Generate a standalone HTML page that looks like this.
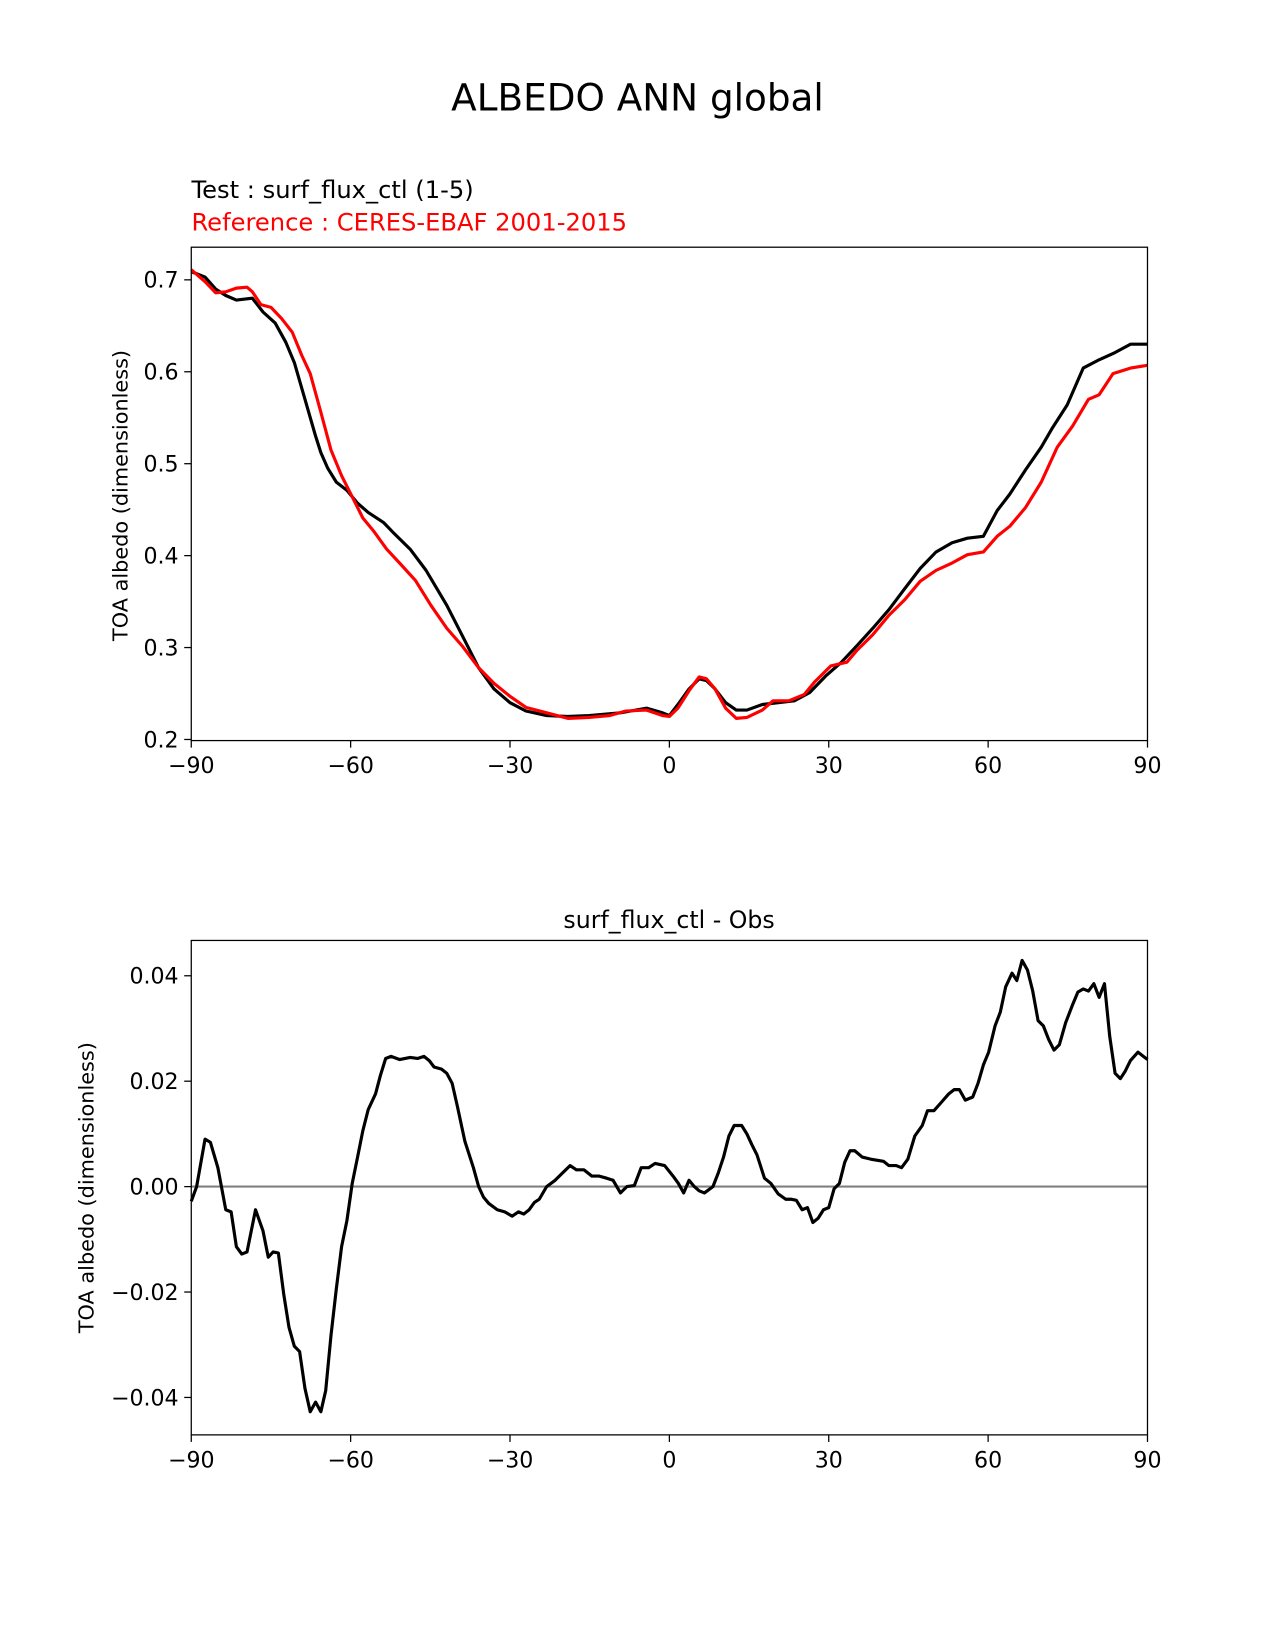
<!DOCTYPE html>
<html><head><meta charset="utf-8"><style>
html,body{margin:0;padding:0;background:#fff;}
svg{display:block;font-family:"DejaVu Sans","Liberation Sans",sans-serif;}
</style></head><body>
<svg id="fig" width="1275" height="1650" viewBox="0 0 1212 1568.5" xmlns="http://www.w3.org/2000/svg">
<rect width="1212" height="1568.5" fill="#fff"/>
<text x="606" y="105" font-size="35.5" text-anchor="middle">ALBEDO ANN global</text>
<text x="182" y="188" font-size="23">Test : surf_flux_ctl (1-5)</text>
<text x="182" y="219" font-size="23" fill="#ff0000">Reference : CERES-EBAF 2001-2015</text>
<text x="636" y="882" font-size="22.5" text-anchor="middle">surf_flux_ctl - Obs</text>
<text transform="translate(121,471) rotate(-90)" font-size="19.8" text-anchor="middle">TOA albedo (dimensionless)</text>
<text transform="translate(89,1129) rotate(-90)" font-size="19.8" text-anchor="middle">TOA albedo (dimensionless)</text>
<g id="top"></g>
<g id="bot"></g>
</svg>
<script>
const xTicks=[-90,-60,-30,0,30,60,90];
const xTickLabels=["\u221290","\u221260","\u221230","0","30","60","90"];
const topYTicks=[0.2,0.3,0.4,0.5,0.6,0.7];
const topYTickLabels=["0.2","0.3","0.4","0.5","0.6","0.7"];
const botYTicks=[-0.04,-0.02,0,0.02,0.04];
const botYTickLabels=["\u22120.04","\u22120.02","0.00","0.02","0.04"];
const testLat=[-90,-87.4,-85.4,-83.5,-81.5,-78.5,-76.5,-74.2,-72.2,-70.6,-68.6,-66.6,-65.6,-64.3,-62.7,-60.7,-58.7,-56.7,-53.8,-51.8,-48.8,-45.8,-41.9,-38.9,-35.9,-33.0,-30.0,-27.0,-23.1,-19.1,-15.1,-9.2,-4.3,-1.3,0,1.6,3.7,5.6,7.0,8.6,10.6,12.6,14.6,17.5,20.5,23.5,26.4,29.4,32.4,35.3,38.3,41.3,44.3,47.2,50.2,53.2,56.1,59.1,61.7,64.1,67.0,70.0,72.0,74.9,77.9,80.9,83.9,86.8,90];
const testVal=[0.709,0.703,0.69,0.683,0.678,0.68,0.665,0.653,0.632,0.61,0.57,0.53,0.512,0.495,0.48,0.471,0.457,0.447,0.436,0.424,0.407,0.384,0.346,0.312,0.278,0.255,0.24,0.231,0.226,0.225,0.226,0.229,0.234,0.229,0.226,0.238,0.255,0.266,0.264,0.255,0.24,0.232,0.232,0.238,0.24,0.242,0.251,0.269,0.284,0.302,0.321,0.341,0.364,0.386,0.404,0.414,0.419,0.421,0.449,0.467,0.493,0.518,0.538,0.564,0.604,0.613,0.621,0.63,0.63];
const refLat=[-90,-87.4,-85.4,-83.5,-81.5,-79.5,-78.5,-76.9,-75.0,-73.0,-71.0,-69.2,-67.6,-65.6,-63.7,-61.7,-59.7,-57.7,-55.7,-53.2,-50.8,-47.8,-44.9,-41.9,-38.9,-35.9,-33.0,-30.0,-27.0,-23.1,-19.1,-15.1,-11.2,-8.2,-4.3,-1.3,0,1.6,3.7,5.6,7.0,8.6,10.6,12.6,14.6,17.5,19.5,22.5,25.4,27.4,30.4,33.4,35.3,38.3,41.3,44.3,47.2,50.2,53.2,56.1,59.1,61.7,64.1,67.0,70.0,73.0,75.9,78.9,80.9,83.5,86.8,90];
const refVal=[0.711,0.698,0.686,0.687,0.691,0.692,0.687,0.673,0.67,0.658,0.643,0.618,0.598,0.556,0.515,0.487,0.464,0.441,0.427,0.407,0.392,0.373,0.346,0.321,0.301,0.278,0.261,0.247,0.235,0.229,0.223,0.224,0.226,0.231,0.232,0.226,0.225,0.234,0.253,0.268,0.266,0.255,0.234,0.223,0.224,0.232,0.242,0.242,0.249,0.263,0.28,0.284,0.297,0.314,0.335,0.352,0.372,0.384,0.392,0.401,0.404,0.421,0.432,0.452,0.48,0.518,0.541,0.57,0.575,0.598,0.604,0.607];
const diffLat=[-90,-89.0,-87.4,-86.4,-85.0,-83.5,-82.5,-81.5,-80.5,-79.5,-77.9,-76.5,-75.5,-74.6,-73.6,-72.6,-71.6,-70.6,-69.6,-68.6,-67.6,-66.6,-65.6,-64.7,-63.7,-62.7,-61.7,-60.7,-59.7,-58.7,-57.7,-56.7,-55.3,-54.4,-53.4,-52.4,-50.8,-48.8,-47.4,-46.2,-45.2,-44.3,-42.9,-41.9,-40.9,-39.9,-38.5,-36.9,-35.9,-35.0,-34.0,-32.4,-31.0,-29.6,-28.4,-27.4,-26.4,-25.4,-24.5,-23.1,-21.5,-20.1,-18.7,-17.5,-16.1,-14.6,-13.2,-11.8,-10.6,-9.2,-8.0,-6.6,-5.3,-3.9,-2.7,-0.9,0.7,1.7,2.7,3.7,4.7,5.6,6.6,8.2,9.2,10.2,11.2,12.2,13.6,14.6,15.5,16.5,17.9,19.1,20.5,21.9,22.9,23.9,25.0,26.0,27.0,28.0,29.0,30.0,31.0,32.0,33.0,34.0,34.9,36.3,37.9,40.3,41.3,42.7,43.7,44.9,46.2,47.6,48.6,49.8,51.2,52.6,53.6,54.6,55.7,57.1,58.1,59.1,60.1,61.3,62.3,63.3,64.5,65.4,66.4,67.4,68.4,69.4,70.4,71.4,72.4,73.4,74.6,75.9,76.9,77.9,78.9,79.9,80.9,81.9,82.9,83.9,84.9,85.8,86.8,88.2,90];
const diffVal=[-0.0028,0,0.009,0.0084,0.0036,-0.0044,-0.0048,-0.0114,-0.0128,-0.0124,-0.0044,-0.0084,-0.0134,-0.0124,-0.0126,-0.0204,-0.0267,-0.0303,-0.0313,-0.0383,-0.0427,-0.0409,-0.0427,-0.0387,-0.0283,-0.0194,-0.0114,-0.0064,0.0006,0.0056,0.0106,0.0146,0.0176,0.0211,0.0243,0.0247,0.0241,0.0245,0.0243,0.0247,0.0239,0.0227,0.0223,0.0215,0.0196,0.0152,0.0086,0.0036,0,-0.002,-0.0032,-0.0044,-0.0048,-0.0056,-0.0048,-0.0052,-0.0044,-0.003,-0.0024,0,0.0012,0.0026,0.004,0.0032,0.0032,0.002,0.002,0.0016,0.0012,-0.0012,0,0.0002,0.0036,0.0036,0.0044,0.004,0.002,0.0006,-0.0012,0.0012,0,-0.0008,-0.0012,0,0.0026,0.0056,0.0096,0.0116,0.0116,0.01,0.008,0.006,0.0016,0.0006,-0.0014,-0.0024,-0.0024,-0.0026,-0.0044,-0.004,-0.0068,-0.006,-0.0044,-0.004,-0.0004,0.0006,0.0046,0.0068,0.0068,0.0056,0.0052,0.0048,0.004,0.004,0.0036,0.0052,0.0096,0.0116,0.0144,0.0144,0.016,0.0176,0.0184,0.0184,0.0164,0.017,0.0196,0.0231,0.0255,0.0305,0.0331,0.0379,0.0405,0.0391,0.0429,0.0411,0.0371,0.0315,0.0305,0.0279,0.0259,0.0269,0.0311,0.0345,0.0369,0.0375,0.0371,0.0385,0.0359,0.0385,0.0285,0.0215,0.0205,0.0219,0.0239,0.0255,0.0241];

const NS='http://www.w3.org/2000/svg';
function mk(parent,tag,attrs){const e=document.createElementNS(NS,tag);for(const k in attrs)e.setAttribute(k,attrs[k]);parent.appendChild(e);return e;}
const L=181.8,R=1090.8;
function xs(v){return L+(v+90)/180*(R-L);}
function drawPanel(g,top,bottom,ymin,ymax,yt,ytl,name){
  const ys=v=>bottom-(v-ymin)/(ymax-ymin)*(bottom-top);
  xTicks.forEach((t,i)=>{
    const tk=mk(g,'line',{x1:xs(t),x2:xs(t),y1:bottom,y2:bottom+6.7,stroke:'#000','stroke-width':1.2});
    
    
    const tx=mk(g,'text',{x:xs(t),y:bottom+31,'font-size':21,'text-anchor':'middle'});
    tx.textContent=xTickLabels[i];
    
    
  });
  yt.forEach((t,i)=>{
    const tk=mk(g,'line',{x1:L-6.7,x2:L,y1:ys(t),y2:ys(t),stroke:'#000','stroke-width':1.2});
    
    
    const tx=mk(g,'text',{x:L-12,y:ys(t)+7.5,'font-size':21,'text-anchor':'end'});
    tx.textContent=ytl[i];
    
    
  });
  return ys;
}
function line(g,lat,val,ys,color,w,name){
  const d=lat.map((la,i)=>(i?'L':'M')+xs(la).toFixed(1)+','+ys(val[i]).toFixed(1)).join(' ');
  const p=mk(g,'path',{d:d,fill:'none',stroke:color,'stroke-width':w,'stroke-linejoin':'round'});
  
  
}
function frame(g,top,bottom,name){
  const r=mk(g,'rect',{x:L,y:top,width:R-L,height:bottom-top,fill:'none',stroke:'#000','stroke-width':1.2});
  
  
}
const gt=document.getElementById('top');
const ys1=drawPanel(gt,235,704,0.1988,0.7355,topYTicks,topYTickLabels,'top');
line(gt,testLat,testVal,ys1,'#000',3,'test-line');
line(gt,refLat,refVal,ys1,'#ff0000',3,'reference-line');
frame(gt,235,704,'top-axes-frame');
const gb=document.getElementById('bot');
const ys2=drawPanel(gb,894,1364,-0.0471,0.0467,botYTicks,botYTickLabels,'diff');
const zl=mk(gb,'line',{x1:L,x2:R,y1:ys2(0),y2:ys2(0),stroke:'#808080','stroke-width':2});


line(gb,diffLat,diffVal,ys2,'#000',3,'diff-line');
frame(gb,894,1364,'diff-axes-frame');
</script>
</body></html>
